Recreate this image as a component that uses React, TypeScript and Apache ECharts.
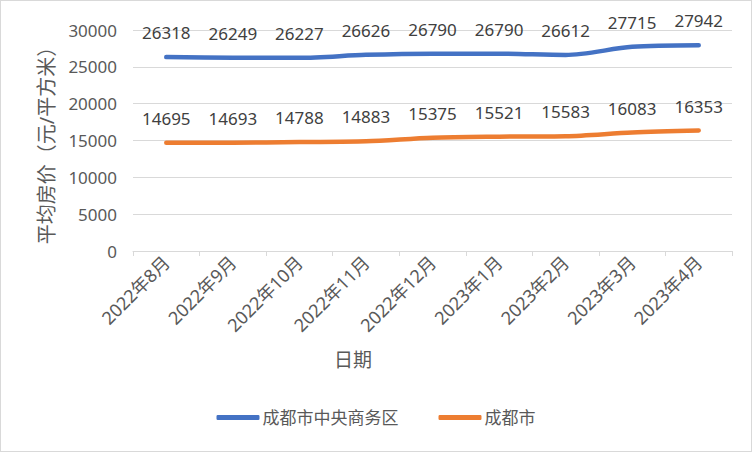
import React, { useEffect, useRef } from 'react';
import * as echarts from 'echarts';

const months = ['2022年8月', '2022年9月', '2022年10月', '2022年11月', '2022年12月', '2023年1月', '2023年2月', '2023年3月', '2023年4月'];
const cbdPrices = [26318, 26249, 26227, 26626, 26790, 26790, 26612, 27715, 27942];
const cityPrices = [14695, 14693, 14788, 14883, 15375, 15521, 15583, 16083, 16353];
const seriesNames = ['成都市中央商务区', '成都市'];
const seriesColors = ['#4472C4', '#ED7D31'];

const FONT = '"Noto Sans", "Noto Sans CJK SC", sans-serif';

const App: React.FC = () => {
  const chartRef = useRef<HTMLDivElement>(null);

  useEffect(() => {
    document.body.style.margin = '0';
    if (!chartRef.current) return;
    const chart = echarts.init(chartRef.current, undefined, { renderer: 'svg' });

    const labelStyle = {
      show: true,
      position: 'top' as const,
      distance: 16,
      color: '#404040',
      fontSize: 17,
      fontFamily: FONT,
    };

    const makeSeries = (name: string, data: number[], color: string) => ({
      name,
      type: 'line',
      data,
      smooth: 0.3,
      symbol: 'circle',
      symbolSize: 0.01,
      showSymbol: true,
      lineStyle: { color, width: 4.5, cap: 'round' },
      itemStyle: { color },
      label: labelStyle,
    });

    chart.setOption({
      animation: false,
      textStyle: { fontFamily: FONT },
      grid: { left: 132, right: 19, top: 29, bottom: 200 },
      xAxis: {
        type: 'category',
        data: months,
        boundaryGap: true,
        axisLine: { lineStyle: { color: '#d9d9d9', width: 1 } },
        axisTick: { show: true, length: 5, lineStyle: { color: '#d9d9d9' } },
        axisLabel: { rotate: 45, color: '#595959', fontSize: 18, fontFamily: FONT, margin: 8 },
      },
      yAxis: {
        type: 'value',
        min: 0,
        max: 30000,
        interval: 5000,
        name: '平均房价（元/平方米）',
        nameLocation: 'middle',
        nameGap: 77,
        nameRotate: 90,
        nameTextStyle: { color: '#595959', fontSize: 20, fontFamily: FONT },
        axisLine: { show: false },
        axisTick: { show: false },
        axisLabel: {
          color: '#595959',
          fontSize: 17,
          fontFamily: FONT,
          margin: 16,
          formatter: (v: number) => String(v),
        },
        splitLine: { lineStyle: { color: '#d9d9d9', width: 1 } },
      },
      legend: {
        bottom: 20,
        left: 'center',
        itemGap: 40,
        itemWidth: 43,
        itemHeight: 5,
        icon: 'roundRect',
        textStyle: { color: '#595959', fontSize: 17, fontFamily: FONT, padding: [0, 0, 0, -2] },
        data: seriesNames.map((name, i) => ({ name, itemStyle: { color: seriesColors[i], opacity: 1 } })),
      },
      graphic: [
        {
          type: 'text',
          left: 333,
          top: 349,
          style: { text: '日期', fill: '#595959', font: `19px ${FONT}` },
        },
      ],
      series: [
        makeSeries(seriesNames[0], cbdPrices, seriesColors[0]),
        makeSeries(seriesNames[1], cityPrices, seriesColors[1]),
      ],
    });

    return () => chart.dispose();
  }, []);

  return (
    <div
      style={{
        width: 750,
        height: 450,
        border: '1px solid #d9d9d9',
        background: '#ffffff',
      }}
    >
      <div ref={chartRef} style={{ width: 750, height: 450 }} />
    </div>
  );
};

export default App;
